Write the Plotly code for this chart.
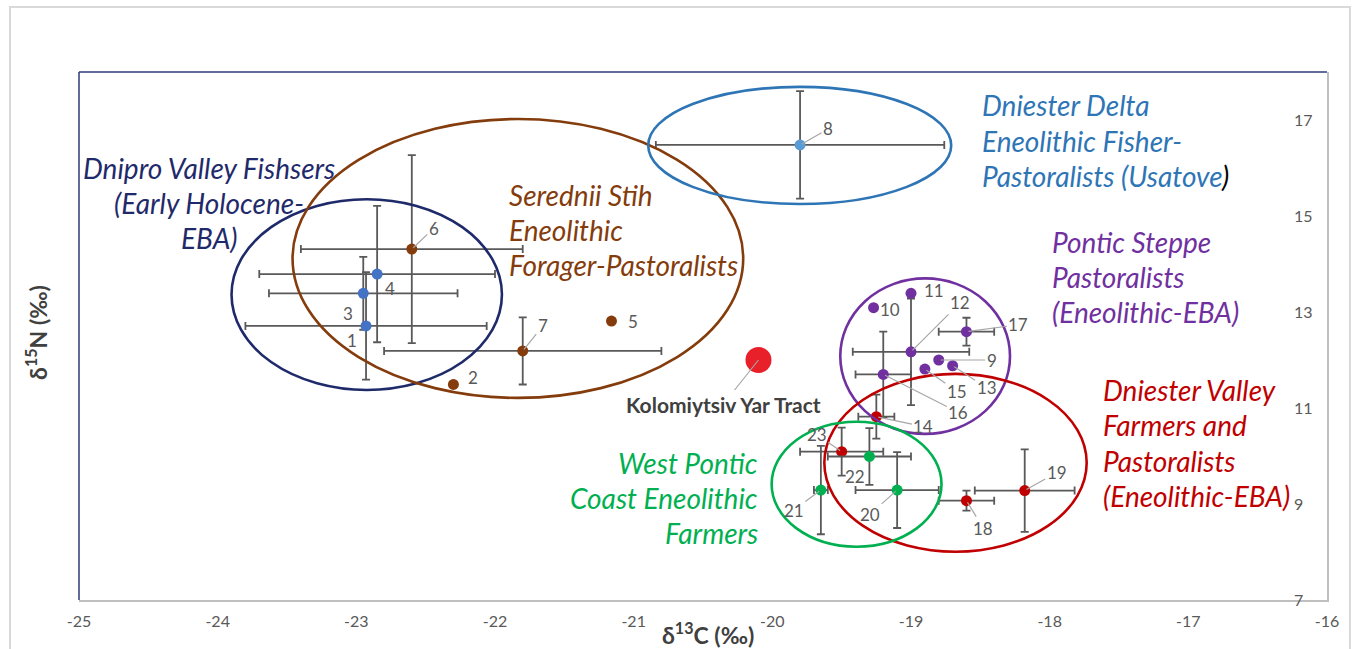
import plotly.graph_objects as go

# ---- data ----
ids   = [1, 2, 3, 4, 5, 6, 7, 8, 9, 10, 11, 12, 13, 14, 15, 16, 17, 18, 19, 20, 21, 22, 23]
d13C  = [-22.93, -22.30, -22.95, -22.85, -21.16, -22.60, -21.80, -19.80, -18.80, -19.27, -19.00, -19.00,
         -18.70, -19.25, -18.90, -19.20, -18.60, -18.60, -18.18, -19.10, -19.65, -19.30, -19.50]
d15N  = [12.71, 11.49, 13.39, 13.79, 12.81, 14.31, 12.19, 16.48, 12.00, 13.09, 13.39, 12.17,
         11.88, 10.82, 11.81, 11.70, 12.59, 9.07, 9.28, 9.29, 9.29, 9.99, 10.09]
err_C = [0.87, 0, 0.68, 0.85, 0, 0.80, 1.00, 1.04, 0, 0, 0, 0.42,
         0, 0.13, 0, 0.20, 0.20, 0.20, 0.36, 0.30, 0.05, 0.30, 0.30]
err_N = [1.12, 0, 0.76, 1.42, 0, 1.96, 0.70, 1.12, 0, 0, 0, 1.11,
         0, 0.46, 0, 0.89, 0.29, 0.21, 0.86, 0.79, 0.92, 0.59, 0.50]
group = ["dnipro", "sered", "dnipro", "dnipro", "sered", "sered", "sered", "delta", "steppe", "steppe",
         "steppe", "steppe", "steppe", "valley", "steppe", "steppe", "steppe", "valley", "valley",
         "west", "west", "west", "valley"]

site_name = "Kolomiytsiv Yar Tract"
site_C = [-20.10]
site_N = [12.00]

x_ticks = [-25, -24, -23, -22, -21, -20, -19, -18, -17, -16]
y_ticks = [7, 9, 11, 13, 15, 17]

# group ellipses: [x0, x1, y0, y1]
ell_groups = ["dnipro", "sered", "delta", "steppe", "valley", "west"]
ell_x0 = [-23.90, -23.46, -20.895, -19.51, -19.625, -20.005]
ell_x1 = [-21.95, -20.21, -18.71, -18.286, -17.733, -18.78]
ell_y0 = [11.375, 11.21, 15.25, 10.46, 8.006, 8.11]
ell_y1 = [15.35, 17.02, 17.69, 13.70, 11.71, 10.715]

group_lines = {
    "dnipro": ["Dnipro Valley Fishsers", "(Early Holocene-", "EBA)"],
    "sered": ["Serednii Stih", "Eneolithic", "Forager-Pastoralists"],
    "delta": ["Dniester Delta", "Eneolithic Fisher-", "Pastoralists (Usatove<span style='color:#000000'>)</span>"],
    "steppe": ["Pontic Steppe", "Pastoralists", "(Eneolithic-EBA)"],
    "valley": ["Dniester Valley", "Farmers and", "Pastoralists", "(Eneolithic-EBA)"],
    "west": ["West Pontic", "Coast Eneolithic", "Farmers"],
}

# ---- styling ----
marker_col = {"dnipro": "#4472C4", "sered": "#843C0C", "delta": "#5B9BD5", "steppe": "#7030A0",
              "valley": "#C00000", "west": "#00B050"}
ell_col = {"dnipro": "#1F2A6B", "sered": "#843C0C", "delta": "#2E75B6", "steppe": "#7030A0",
           "valley": "#C00000", "west": "#00B050"}
text_col = {"dnipro": "#1F2A6B", "sered": "#843C0C", "delta": "#2E75B6", "steppe": "#7030A0",
            "valley": "#C00000", "west": "#00B050"}
# label anchor (x in data, first line y in data, line step, xanchor)
label_pos = {
    "dnipro": (-24.06, 16.00, 0.729, "center"),
    "sered": (-21.914, 15.44, 0.729, "left"),
    "delta": (-18.50, 17.31, 0.74, "left"),
    "steppe": (-18.00, 14.46, 0.729, "left"),
    "valley": (-17.63, 11.375, 0.736, "left"),
    "west": (-20.089, 9.854, 0.729, "right"),
}
# label offsets in pixels (ax, ay) and whether a leader line is drawn
lab_off = {1: (-14, 15, 0), 2: (20, -7, 0), 3: (-15, 20, 0), 4: (13, 14, 0), 5: (22, 0, 0),
           6: (22, -21, 1), 7: (20, -25, 1), 8: (28, -16, 1), 9: (53, 0, 1), 10: (16, 2, 0),
           11: (23, -3, 0), 12: (49, -49, 1), 13: (34, 22, 1), 14: (47, 10, 1), 15: (32, 22, 1),
           16: (75, 38, 1), 17: (52, -7, 1), 18: (17, 28, 1), 19: (32, -18, 1), 20: (-27, 24, 1),
           21: (-27, 20, 1), 22: (-14, 20, 0), 23: (-25, -17, 1)}

FONT = "Lato"
fig = go.Figure()

for g in ell_groups:
    idx = [i for i, gg in enumerate(group) if gg == g]
    fig.add_trace(go.Scatter(
        x=[d13C[i] for i in idx], y=[d15N[i] for i in idx], mode="markers",
        marker=dict(size=11, color=marker_col[g]),
        error_x=dict(type="data", array=[err_C[i] for i in idx], color="#595959", thickness=1.8, width=4),
        error_y=dict(type="data", array=[err_N[i] for i in idx], color="#595959", thickness=1.8, width=4),
        showlegend=False, hoverinfo="x+y"))

fig.add_trace(go.Scatter(x=site_C, y=site_N, mode="markers",
                         marker=dict(size=26, color="#E8202A"), showlegend=False))

shapes = []
for g, x0, x1, y0, y1 in zip(ell_groups, ell_x0, ell_x1, ell_y0, ell_y1):
    shapes.append(dict(type="circle", xref="x", yref="y", x0=x0, x1=x1, y0=y0, y1=y1,
                       line=dict(color=ell_col[g], width=2.6), layer="above"))
# frame: navy left/top
shapes.append(dict(type="line", xref="paper", yref="paper", x0=0, x1=0, y0=0, y1=1,
                   line=dict(color="#2F3A78", width=1.5)))
shapes.append(dict(type="line", xref="paper", yref="paper", x0=0, x1=1, y0=1, y1=1,
                   line=dict(color="#2F3A78", width=1.5)))
# outer chart border
shapes.append(dict(type="rect", xref="paper", yref="paper", x0=-0.0553, x1=1.0184, y0=-0.10, y1=1.1231,
                   line=dict(color="#D9D9D9", width=2)))

ann = []
for i, pid in enumerate(ids):
    ax, ay, lead = lab_off[pid]
    ann.append(dict(x=d13C[i], y=d15N[i], text=str(pid), showarrow=True, ax=ax, ay=ay,
                    arrowhead=0, arrowwidth=1.2, standoff=2,
                    arrowcolor="#A6A6A6" if lead else "rgba(0,0,0,0)",
                    font=dict(family=FONT, size=17, color="#595959")))
ann.append(dict(x=site_C[0], y=site_N[0], text="<b>" + site_name + "</b>", showarrow=True,
                ax=-35, ay=44, arrowhead=0, arrowwidth=1.2, arrowcolor="#A6A6A6", standoff=0,
                font=dict(family=FONT, size=21, color="#404040")))

for g in ell_groups:
    x, y, step, anchor = label_pos[g]
    for k, line in enumerate(group_lines[g]):
        ann.append(dict(x=x, y=y - k * step, text="<i>" + line + "</i>", showarrow=False,
                        xanchor=anchor, yanchor="middle",
                        font=dict(family=FONT, size=28, color=text_col[g])))

ann.append(dict(xref="paper", yref="paper", x=0.504, y=-0.0625, text="<b>δ<sup>13</sup>C (‰)</b>",
                xanchor="center", yanchor="middle",
                showarrow=False, font=dict(family=FONT, size=23, color="#404040")))
ann.append(dict(xref="paper", yref="paper", x=-0.0337, y=0.5076, text="<b>δ<sup>15</sup>N (‰)</b>",
                xanchor="center", yanchor="middle",
                showarrow=False, textangle=-90, font=dict(family=FONT, size=23, color="#404040")))

fig.update_layout(
    width=1354, height=649,
    margin=dict(l=79, r=27, t=72, b=49),
    paper_bgcolor="white", plot_bgcolor="white",
    shapes=shapes, annotations=ann,
    xaxis=dict(range=[-25, -16], tickvals=x_ticks, ticktext=[str(v) for v in x_ticks],
               showgrid=False, zeroline=False, showline=True, linecolor="#BFBFBF", linewidth=1.5,
               automargin=False,
               ticks="", ticklabelstandoff=6, tickfont=dict(family=FONT, size=16, color="#595959")),
    yaxis=dict(range=[7, 18], tickvals=y_ticks, ticktext=[str(v) for v in y_ticks], side="right",
               ticklabelposition="outside", ticklabelstandoff=-38, automargin=False,
               showgrid=False, zeroline=False, showline=True, linecolor="#BFBFBF", linewidth=1.5,
               ticks="", tickfont=dict(family=FONT, size=16, color="#595959")),
)

fig.write_html("out.html", config={"displayModeBar": False},
               post_script="document.body.style.margin='0px';"
                           "document.documentElement.style.overflow='hidden';")
